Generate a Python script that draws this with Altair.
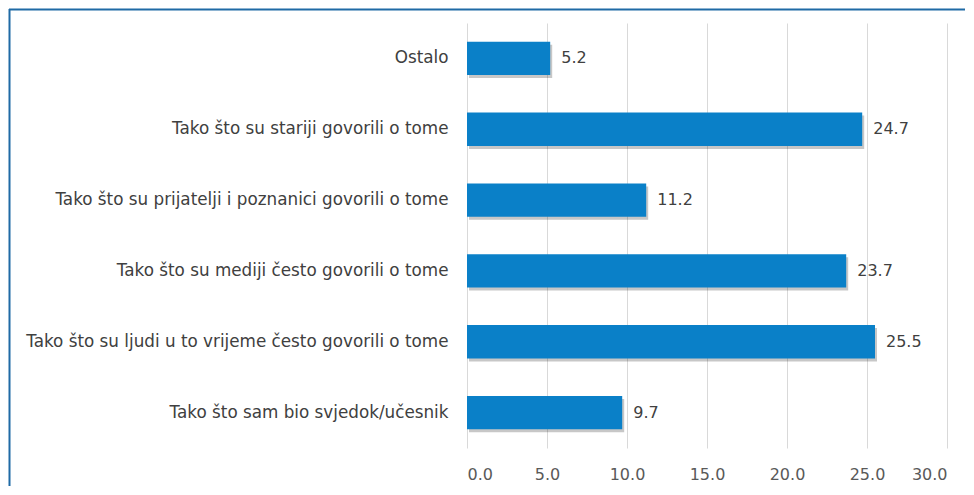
import altair as alt
import pandas as pd

categories = [
    "Ostalo",
    "Tako što su stariji govorili o tome",
    "Tako što su prijatelji i poznanici govorili o tome",
    "Tako što su mediji često govorili o tome",
    "Tako što su ljudi u to vrijeme često govorili o tome",
    "Tako što sam bio svjedok/učesnik",
]
values = [5.2, 24.7, 11.2, 23.7, 25.5, 9.7]
x_ticks = [0, 5, 10, 15, 20, 25, 30]

df = pd.DataFrame({"cat": categories, "val": values})
df["label"] = df["val"].map(lambda v: f"{v:.1f}")

FONT = "DejaVu Sans"
W, H = 480, 425

one = pd.DataFrame({"a": [0]})
top_border = alt.Chart(one).mark_rule(color="#1f6aa5", strokeWidth=2).encode(
    x=alt.value(-458), x2=alt.value(530), y=alt.value(-13.5))
left_border = alt.Chart(one).mark_rule(color="#1f6aa5", strokeWidth=2).encode(
    x=alt.value(-457.5), y=alt.value(-14), y2=alt.value(480))

y_enc = alt.Y("cat:N", sort=categories, title=None,
              scale=alt.Scale(paddingInner=0.53, paddingOuter=0.265),
              axis=alt.Axis(domain=False, ticks=False, grid=False,
                            labelFont=FONT, labelFontSize=16.8, labelColor="#404040",
                            labelPadding=19, labelLimit=500))
x_enc = alt.X("val:Q", title=None,
              scale=alt.Scale(domain=[0, 30], nice=False),
              axis=alt.Axis(values=x_ticks, format=".1f", domain=False, ticks=False,
                            grid=True, gridColor="#d9d9d9", gridWidth=1,
                            labelFont=FONT, labelFontSize=16, labelColor="#595959",
                            labelPadding=18))

base = alt.Chart(df)

shadow = base.mark_bar(color="#000000", opacity=0.22, xOffset=2, yOffset=3).encode(
    x=x_enc, y=y_enc)
bars = base.mark_bar(color="#0a80c8").encode(x=x_enc, y=y_enc)
text = base.mark_text(align="left", baseline="middle", dx=11, font=FONT,
                      fontSize=16, color="#404040").encode(
    x=x_enc, y=y_enc, text="label:N")

chart = alt.layer(top_border, left_border, shadow, bars, text).properties(
    width=W, height=H,
    background="white",
    padding={"left": 459, "top": 15, "right": 18, "bottom": 38},
    autosize=alt.AutoSizeParams(type="none"),
).configure_view(stroke=None)

chart.save("out.html", embed_options={"renderer": "svg", "actions": False})
